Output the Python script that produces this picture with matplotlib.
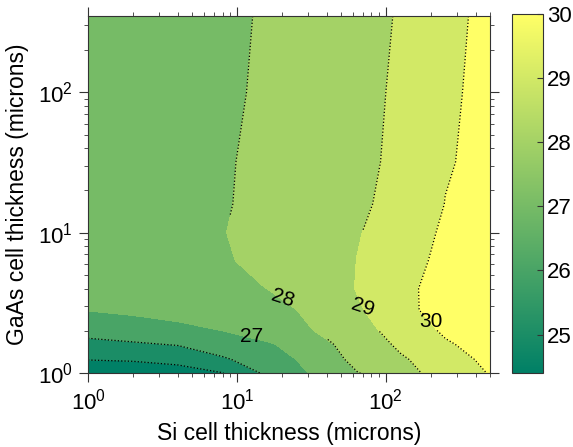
import matplotlib
matplotlib.use('Agg')
import matplotlib.pyplot as plt
import numpy as np
from matplotlib import colors
from matplotlib.cm import ScalarMappable

plt.rcParams['font.family'] = ['Liberation Sans', 'DejaVu Sans']
plt.rcParams['mathtext.fontset'] = 'custom'
plt.rcParams['mathtext.rm'] = 'Liberation Sans'
plt.rcParams['mathtext.it'] = 'Liberation Sans:italic'

# Si cell thickness (x, microns) and GaAs cell thickness (y, microns)
si_thick = [1, 2, 4, 8, 16, 32, 64, 125, 250, 500]
gaas_thick = [1, 1.25, 1.6, 2, 2.8, 4, 6.3, 10, 16, 32, 100, 350]

# efficiency (%), one row per GaAs thickness
eff_1 = [24.40, 24.55, 24.75, 24.98, 26.28, 27.10, 27.96, 28.69, 29.50, 30.06]
eff_1_25 = [25.03, 25.08, 25.19, 25.90, 26.58, 27.34, 28.35, 28.90, 29.60, 30.30]
eff_1_6 = [25.76, 25.89, 26.07, 26.48, 26.90, 27.64, 28.55, 29.16, 29.88, 30.59]
eff_2 = [26.33, 26.55, 26.78, 27.00, 27.49, 27.98, 28.70, 29.42, 30.17, 30.92]
eff_2_8 = [27.03, 27.18, 27.33, 27.48, 27.62, 28.27, 28.91, 29.67, 30.65, 31.35]
eff_4 = [27.18, 27.39, 27.59, 27.80, 28.01, 28.52, 29.04, 29.71, 30.60, 31.20]
eff_6_3 = [27.30, 27.51, 27.72, 27.93, 28.25, 28.63, 29.01, 29.65, 30.30, 30.95]
eff_10 = [27.40, 27.59, 27.78, 27.98, 28.29, 28.62, 28.95, 29.53, 30.17, 30.81]
eff_16 = [27.40, 27.58, 27.77, 27.95, 28.24, 28.56, 28.88, 29.30, 30.02, 30.66]
eff_32 = [27.40, 27.58, 27.76, 27.94, 28.20, 28.52, 28.83, 29.20, 29.89, 30.52]
eff_100 = [27.40, 27.56, 27.72, 27.87, 28.16, 28.48, 28.80, 29.14, 29.81, 30.43]
eff_350 = [27.40, 27.54, 27.68, 27.81, 28.13, 28.45, 28.76, 29.07, 29.74, 30.34]

levels = [24, 25, 26, 27, 28, 29, 30, 32]
line_levels = [25, 26, 27, 28, 29, 30]
cbar_ticks = [25, 26, 27, 28, 29, 30]
label_pos = [(12.6, 1.75), (20.3, 3.5), (70, 2.95), (200, 1.95)]

Z = np.array([eff_1, eff_1_25, eff_1_6, eff_2, eff_2_8, eff_4, eff_6_3,
              eff_10, eff_16, eff_32, eff_100, eff_350])
X, Y = np.meshgrid(si_thick, gaas_thick)

cmap = plt.get_cmap('summer')
norm = colors.Normalize(vmin=24.4, vmax=30)
# matlab style: each band gets the colour of its lower level
fill_colors = [cmap(norm(max(v, 24.4))) for v in levels[:-1]]

fig = plt.figure(figsize=(5.73, 4.47), dpi=100)
ax = fig.add_axes([0.1536, 0.1655, 0.7016, 0.7985])
cax = fig.add_axes([0.8935, 0.1655, 0.054, 0.8035])

ax.contourf(X, Y, Z, levels=levels, colors=fill_colors)
cl = ax.contour(X, Y, Z, levels=line_levels, colors='k', linestyles=':', linewidths=0.9)
labels = ax.clabel(cl, manual=label_pos, inline=True, fmt='%d', fontsize=15, colors='k')
for t in labels:
    t.set_rotation(0)
    if t.get_text() in ('28', '29'):
        t.set_rotation(-18)

ax.set_xscale('log')
ax.set_yscale('log')
ax.set_xlim(1, 500)
ax.set_ylim(1, 350)
ax.tick_params(which='both', direction='out', top=True, right=True, labelsize=16,
               color='#333333')
ax.tick_params(which='major', length=6.5)
ax.tick_params(which='minor', length=3)
ax.tick_params(axis='x', pad=5)
ax.tick_params(axis='y', pad=4.5)
ax.set_xlabel('Si cell thickness (microns)', fontsize=16.5, labelpad=5)
ax.set_ylabel('GaAs cell thickness (microns)', fontsize=16.5, labelpad=6)
for s in ax.spines.values():
    s.set_color('#333333')

sm = ScalarMappable(norm=norm, cmap=cmap)
cb = fig.colorbar(sm, cax=cax, ticks=cbar_ticks)
cb.ax.tick_params(direction='in', length=4, labelsize=16, color='#333333', pad=3)
cb.outline.set_edgecolor('#333333')

fig.savefig('out.png', dpi=100)
